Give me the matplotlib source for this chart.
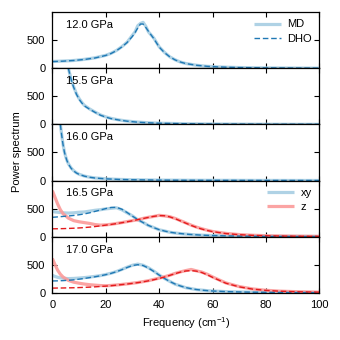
import numpy as np
import matplotlib
matplotlib.use("Agg")
from matplotlib import pyplot as plt

plt.rcParams['font.family'] = ['Liberation Sans', 'DejaVu Sans']
plt.rcParams['font.size'] = 8
plt.rcParams['mathtext.fontset'] = 'custom'
plt.rcParams['mathtext.rm'] = 'Liberation Sans'

# colours (Paired palette)
LIGHT_BLUE = '#a6cee3'
BLUE = '#1f78b4'
LIGHT_RED = '#fb9a99'
RED = '#e31a1c'

pressures = ['12.0 GPa', '15.5 GPa', '16.0 GPa', '16.5 GPa', '17.0 GPa']

# --- 12.0 GPa
freq1 = [0, 4, 8, 12, 16, 20, 22, 24, 26, 28, 30, 31, 32, 33, 34, 35, 36, 38, 40,
         42, 44, 46, 48, 50, 54, 58, 62, 66, 70, 80, 90, 100]
md1 = [122, 130, 140, 160, 188, 232, 268, 318, 385, 465, 590, 650, 760, 800, 820, 750,
       650, 540, 385, 285, 205, 152, 112, 86, 55, 36, 26, 19, 14, 8, 5, 3]
dho1 = [120, 128, 140, 158, 185, 230, 265, 315, 380, 460, 570, 640, 720, 790, 790, 730,
        660, 530, 380, 280, 205, 150, 112, 85, 55, 36, 26, 19, 14, 8, 5, 3]

# --- 15.5 GPa
freq2 = [6, 6.5, 7, 7.5, 8, 9, 10, 11, 12, 14, 16, 18, 20, 22, 25, 28, 32, 36, 40,
         50, 60, 70, 80, 90, 100]
md2 = [1000, 905, 815, 740, 670, 550, 462, 395, 340, 275, 220, 170, 135, 108, 80, 60,
       42, 30, 22, 12, 7, 5, 3, 2, 2]
dho2 = [1000, 900, 810, 730, 660, 540, 450, 385, 330, 270, 215, 165, 130, 104, 78, 58,
        40, 29, 22, 12, 7, 5, 3, 2, 2]

# --- 16.0 GPa
freq3 = [3, 3.25, 3.5, 3.75, 4, 4.5, 5, 5.5, 6, 7, 8, 9, 10, 12, 14, 16, 20, 25, 30,
         40, 50, 60, 80, 100]
md3 = [1000, 905, 815, 725, 645, 515, 425, 355, 300, 225, 175, 138, 112, 80, 60, 46,
       31, 20, 14, 8, 5, 4, 2, 1]
dho3 = [1000, 900, 810, 720, 640, 510, 420, 350, 295, 220, 170, 135, 110, 78, 58, 45,
        30, 20, 14, 8, 5, 4, 2, 1]

# --- 16.5 GPa and 17.0 GPa share one grid
freq45 = [0, 1, 2, 3, 4, 6, 8, 10, 12, 14, 16, 18, 20, 22, 24, 26, 28, 30, 32, 34, 36,
          38, 40, 42, 44, 46, 48, 50, 52, 54, 56, 58, 60, 65, 70, 75, 80, 85, 90, 95, 100]

md4_xy = [450, 440, 435, 430, 425, 420, 425, 435, 440, 455, 470, 480, 495, 505, 515,
          480, 425, 370, 300, 255, 198, 162, 122, 102, 78, 66, 54, 46, 37, 32, 26, 23,
          20, 14, 10, 8, 6, 5, 4, 3, 3]
dho4_xy = [345, 348, 352, 356, 360, 368, 378, 390, 405, 425, 450, 475, 500, 520, 522,
           490, 430, 365, 305, 250, 200, 160, 125, 100, 80, 65, 55, 45, 38, 32, 27, 23,
           20, 14, 10, 8, 6, 5, 4, 3, 3]
md4_z = [820, 700, 580, 480, 410, 330, 285, 265, 250, 235, 215, 205, 210, 220, 235,
         250, 268, 285, 300, 325, 345, 360, 380, 370, 355, 325, 285, 245, 205, 170, 140,
         115, 92, 58, 37, 25, 17, 12, 9, 7, 5]
dho4_z = [140, 140, 141, 142, 143, 146, 150, 155, 162, 170, 180, 192, 205, 218, 232,
          248, 265, 283, 303, 323, 343, 362, 375, 372, 352, 320, 280, 240, 200, 165, 135,
          110, 90, 55, 35, 23, 16, 11, 8, 6, 5]

md5_xy = [310, 290, 275, 265, 258, 252, 255, 262, 270, 280, 292, 305, 325, 348, 378,
          415, 455, 490, 510, 490, 445, 385, 318, 255, 202, 152, 122, 90, 73, 56, 47, 37,
          31, 20, 14, 10, 8, 6, 5, 4, 3]
dho5_xy = [210, 211, 212, 214, 216, 222, 230, 242, 255, 270, 285, 302, 322, 345, 375,
           410, 450, 485, 500, 485, 440, 380, 315, 255, 200, 155, 120, 92, 72, 57, 46, 38,
           31, 20, 14, 10, 8, 6, 5, 4, 3]
md5_z = [610, 500, 400, 330, 280, 220, 188, 170, 155, 143, 135, 128, 125, 130, 138,
         148, 158, 170, 182, 198, 215, 238, 260, 285, 312, 345, 372, 395, 415, 390, 368,
         330, 282, 175, 110, 68, 44, 29, 21, 15, 11]
dho5_z = [83, 83, 84, 84, 85, 87, 89, 92, 96, 100, 105, 112, 118, 126, 135, 145, 155,
          167, 180, 195, 212, 232, 255, 280, 310, 340, 368, 388, 395, 385, 360, 320, 275,
          170, 105, 65, 42, 28, 20, 14, 10]

fig, axes = plt.subplots(5, 1, figsize=(3.4, 3.4), dpi=100, sharex=True)
fig.subplots_adjust(left=0.154, right=0.939, top=0.964, bottom=0.139, hspace=0)

md_kw = dict(lw=2.3, alpha=0.9, solid_capstyle='butt')
dho_kw = dict(lw=1.0, ls=(0, (4, 2)))

leg_kw = dict(loc='upper right', frameon=False, handlelength=2.4, borderaxespad=0.25,
              labelspacing=0.4, handletextpad=0.6, fontsize=8)

ax = axes[0]
ax.plot(freq1, md1, color=LIGHT_BLUE, label='MD', **md_kw)
ax.plot(freq1, dho1, color=BLUE, label='DHO', **dho_kw)
ax.legend(**leg_kw)

axes[1].plot(freq2, md2, color=LIGHT_BLUE, **md_kw)
axes[1].plot(freq2, dho2, color=BLUE, **dho_kw)
axes[2].plot(freq3, md3, color=LIGHT_BLUE, **md_kw)
axes[2].plot(freq3, dho3, color=BLUE, **dho_kw)

ax = axes[3]
ax.plot(freq45, md4_xy, color=LIGHT_BLUE, label='xy', **md_kw)
ax.plot(freq45, md4_z, color=LIGHT_RED, label='z', **md_kw)
ax.plot(freq45, dho4_xy, color=BLUE, **dho_kw)
ax.plot(freq45, dho4_z, color=RED, **dho_kw)
ax.legend(**leg_kw)

ax = axes[4]
ax.plot(freq45, md5_xy, color=LIGHT_BLUE, **md_kw)
ax.plot(freq45, md5_z, color=LIGHT_RED, **md_kw)
ax.plot(freq45, dho5_xy, color=BLUE, **dho_kw)
ax.plot(freq45, dho5_z, color=RED, **dho_kw)

for ax, p in zip(axes, pressures):
    ax.set_xlim(0, 100)
    ax.set_ylim(0, 1000)
    ax.set_yticks([0, 500])
    ax.set_xticks([0, 20, 40, 60, 80, 100])
    ax.tick_params(direction='in', top=True, right=True, length=3.5, width=0.8, pad=5,
                   labelsize=8)
    for s in ax.spines.values():
        s.set_linewidth(0.9)
    ax.text(0.05, 0.77, p, transform=ax.transAxes, va='center', ha='left', fontsize=8)

axes[-1].set_xlabel('Frequency (cm$^{-1}$)', labelpad=4, fontsize=8)
fig.text(0.049, 0.554, 'Power spectrum', rotation=90, ha='center', va='center',
         fontsize=8)

fig.savefig('out.png', dpi=100)
